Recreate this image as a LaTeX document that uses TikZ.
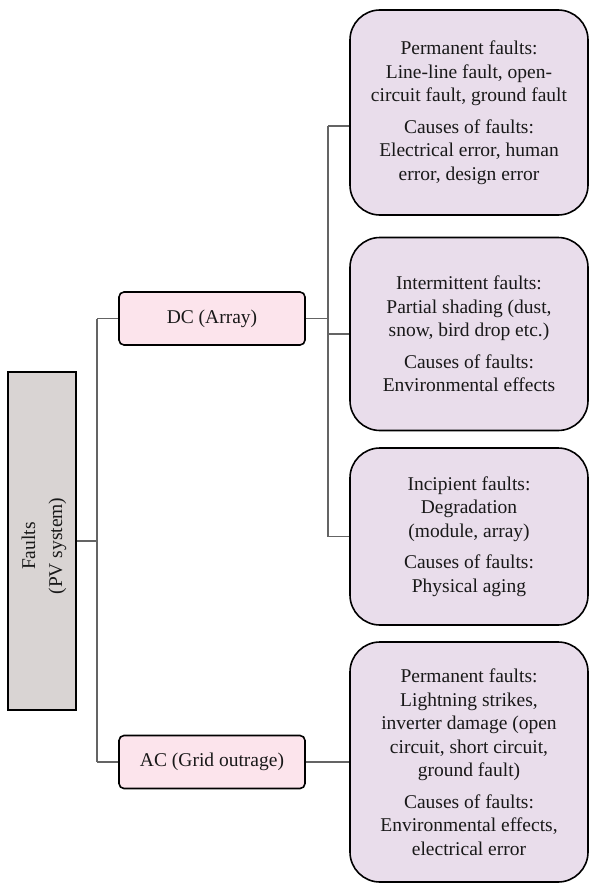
\documentclass[tikz,border=0pt]{standalone}
\usepackage{fontspec}
\setmainfont{Liberation Serif}
\definecolor{rootfill}{RGB}{217,212,211}
\definecolor{branchfill}{RGB}{252,228,236}
\definecolor{leaffill}{RGB}{233,221,235}
\definecolor{wire}{RGB}{100,100,100}
\begin{document}
\begin{tikzpicture}[x=1pt,y=-1pt,
  every node/.style={font=\fontsize{19.5}{23.5}\selectfont, text=black!90},
  rootbox/.style={draw=black, line width=1.6pt, fill=rootfill,
    minimum width=68pt, minimum height=338pt, inner sep=0pt},
  branchbox/.style={draw=black, line width=1.6pt, fill=branchfill,
    rounded corners=5pt, minimum width=186pt, minimum height=53pt, inner sep=0pt},
  leafbox/.style={draw=black, line width=1.6pt, fill=leaffill,
    rounded corners=30pt, minimum width=238pt, align=center, inner sep=0pt},
  wireline/.style={draw=wire, line width=1.3pt}]
\useasboundingbox (0,0) rectangle (590,883);

% root
\node[rootbox] (faults) at (42,541) {};
\node[rotate=90, align=center, font=\fontsize{19.5}{27}\selectfont]
  (faultstext) at (44,546) {Faults\\(PV system)};

% branches
\node[branchbox] (dc) at (212,318.5) {DC (Array)};
\node[branchbox] (ac) at (212,762) {AC (Grid outrage)};

% leaves
\node[leafbox, minimum height=205pt] (b1) at (469,112.5)
  {Permanent faults:\\Line-line fault, open-\\circuit fault, ground fault\\[8pt]
   Causes of faults:\\Electrical error, human\\error, design error};
\node[leafbox, minimum height=193pt] (b2) at (469,334)
  {Intermittent faults:\\Partial shading (dust,\\snow, bird drop etc.)\\[8pt]
   Causes of faults:\\Environmental effects};
\node[leafbox, minimum height=177pt] (b3) at (469,536.5)
  {Incipient faults:\\Degradation\\(module, array)\\[8pt]
   Causes of faults:\\Physical aging};
\node[leafbox, minimum height=240pt] (b4) at (469,762)
  {Permanent faults:\\Lightning strikes,\\inverter damage (open\\circuit, short circuit,\\ground fault)\\[8pt]
   Causes of faults:\\Environmental effects,\\electrical error};

% junction columns
\coordinate (busL) at (97,0);
\coordinate (busR) at (328,0);
\coordinate (b1in) at ([yshift=-13.5pt]b1.west);

% connectors
\draw[wireline] (faults.east) -- (faults.east -| busL);
\draw[wireline] (dc.west -| busL) -- (ac.west -| busL);
\draw[wireline] (dc.west -| busL) -- (dc.west);
\draw[wireline] (ac.west -| busL) -- (ac.west);
\draw[wireline] (dc.east) -- (dc.east -| busR);
\draw[wireline] (b1in -| busR) -- (b3.west -| busR);
\draw[wireline] (b1in -| busR) -- (b1in);
\draw[wireline] (b2.west -| busR) -- (b2.west);
\draw[wireline] (b3.west -| busR) -- (b3.west);
\draw[wireline] (ac.east) -- (b4.west);
\end{tikzpicture}
\end{document}
